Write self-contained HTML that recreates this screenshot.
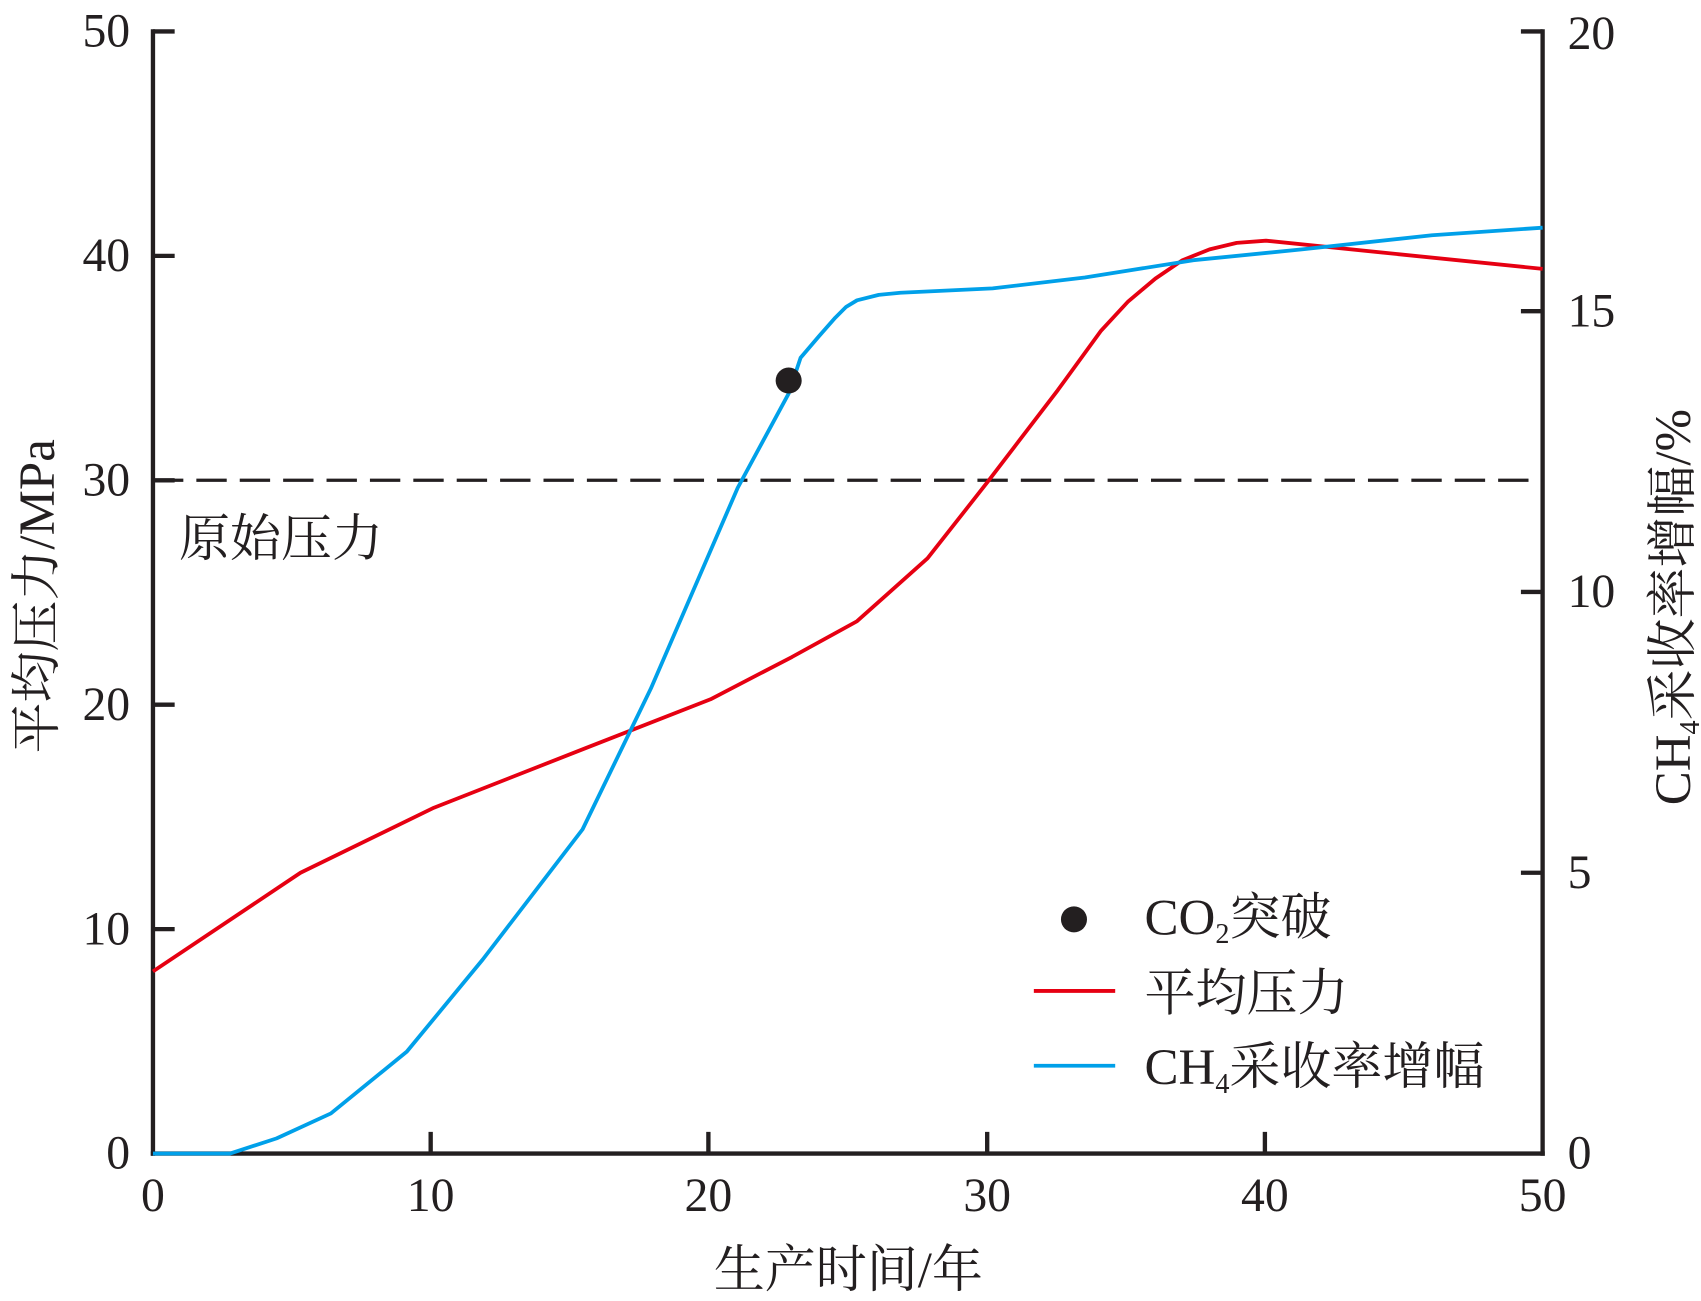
<!DOCTYPE html>
<html><head><meta charset="utf-8"><style>html,body{margin:0;padding:0;background:#fff}svg{display:block}</style></head><body>
<svg width="1701" height="1301" viewBox="0 0 1568 1200" preserveAspectRatio="none" xmlns="http://www.w3.org/2000/svg" font-family="'Liberation Serif','Noto Serif CJK SC',serif" fill="#231f20">
<g stroke="#231f20" stroke-width="4" fill="none">
<line x1="141" y1="27" x2="141" y2="1066"/>
<line x1="1422" y1="27" x2="1422" y2="1066"/>
<line x1="139" y1="1064" x2="1424" y2="1064"/>
<path d="M141 29h20M141 236h20M141 443h20M141 650h20M141 857h20"/>
<path d="M1422 29h-20M1422 287h-20M1422 546h-20M1422 805h-20"/>
<path d="M397 1064v-20M653 1064v-20M910 1064v-20M1166 1064v-20"/>
</g>
<line x1="141" y1="443" x2="1422" y2="443" stroke="#231f20" stroke-width="3" stroke-dasharray="28,12"/>
<polyline fill="none" stroke="#e60012" stroke-width="3.5" stroke-linejoin="round" points="141,896 277,805 400,745 540,690 655,645 730,606 790,573 855,515 910,445 975,360 1015,305 1040,278 1065,257 1090,240 1115,230 1140,224 1167,222 1422,248"/>
<polyline fill="none" stroke="#00a0e9" stroke-width="3.5" stroke-linejoin="round" points="141,1064 212,1064 255,1050 305,1027 375,970 445,885 537,765 600,635 680,450 727,363 738,330 755,310 770,293 780,283 790,277 810,272 830,270 915,266 1000,256 1100,240 1200,230 1320,217 1422,210"/>
<circle cx="727" cy="351" r="12"/>
<g font-size="44">
<g text-anchor="end"><text x="120" y="43">50</text><text x="120" y="250">40</text><text x="120" y="457">30</text><text x="120" y="664">20</text><text x="120" y="871">10</text><text x="120" y="1078">0</text></g>
<text x="1445" y="45">20</text><text x="1445" y="301">15</text><text x="1445" y="560">10</text><text x="1445" y="819">5</text><text x="1445" y="1078">0</text>
<g text-anchor="middle"><text x="141" y="1117">0</text><text x="397" y="1117">10</text><text x="653" y="1117">20</text><text x="910" y="1117">30</text><text x="1166" y="1117">40</text><text x="1422" y="1117">50</text></g>
</g>
<g font-size="47">
<text x="782" y="1187" text-anchor="middle">生产时间/年</text>
<text transform="translate(50,550) rotate(-90)" text-anchor="middle">平均压力/MPa</text>
<text transform="translate(1558,560) rotate(-90)" text-anchor="middle">CH<tspan font-size="26" dy="8">4</tspan><tspan dy="-8">采收率增幅/%</tspan></text>
<text x="165" y="513">原始压力</text>
<text x="1055" y="862">CO<tspan font-size="26" dy="8">2</tspan><tspan dy="-8">突破</tspan></text>
<text x="1055" y="932">平均压力</text>
<text x="1055" y="1000">CH<tspan font-size="26" dy="8">4</tspan><tspan dy="-8">采收率增幅</tspan></text>
</g>
<circle cx="990" cy="848" r="12"/>
<line x1="953" y1="914" x2="1028" y2="914" stroke="#e60012" stroke-width="3.5"/>
<line x1="953" y1="983" x2="1028" y2="983" stroke="#00a0e9" stroke-width="3.5"/>
</svg>
</body></html>
